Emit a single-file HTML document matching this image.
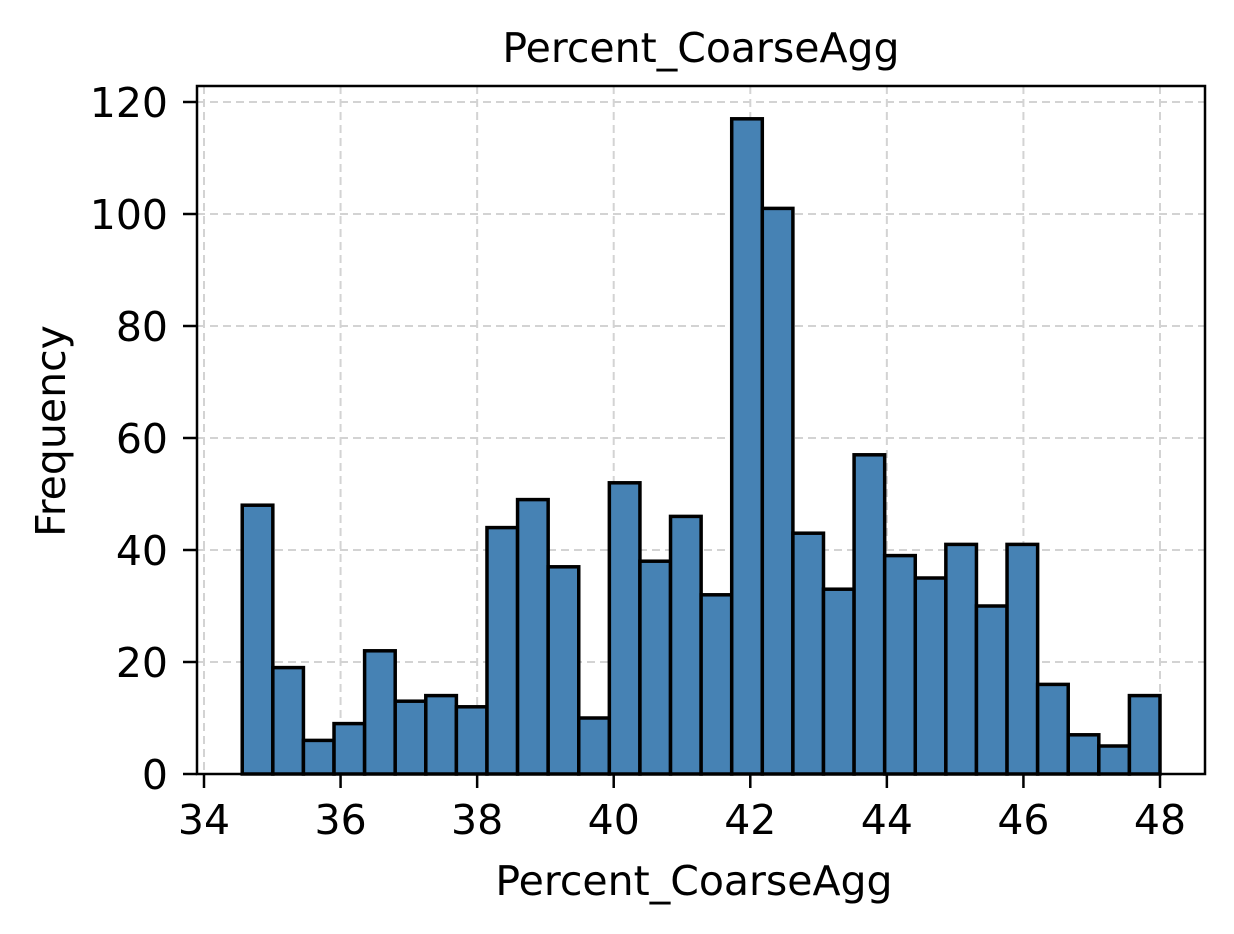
<!DOCTYPE html>
<html><head><meta charset="utf-8"><style>
html,body{margin:0;padding:0;background:#fff;}
svg{display:block;font-family:"DejaVu Sans","Liberation Sans",sans-serif;}
</style></head><body>
<svg id="chart" width="1234" height="934" viewBox="0 0 1234 934">
<rect width="1234" height="934" fill="#fff"/>
<g id="grid"></g>
<g id="bars"></g>
<rect x="197" y="86" width="1008" height="688" fill="none" stroke="#000" stroke-width="2.5"/>
<g id="ticks"></g>
<text x="701" y="62" font-size="41" text-anchor="middle">Percent_CoarseAgg</text>
<text x="694" y="895" font-size="41" text-anchor="middle">Percent_CoarseAgg</text>
<text transform="translate(65,431) rotate(-90)" font-size="41" text-anchor="middle">Frequency</text>
</svg>
<script>
const counts=[48,19,6,9,22,13,14,12,44,49,37,10,52,38,46,32,117,101,43,33,57,39,35,41,30,41,16,7,5,14];
const binStart=34.56, binEnd=48.0;
const xTicks=[34,36,38,40,42,44,46,48];
const yTicks=[0,20,40,60,80,100,120];
const NS="http://www.w3.org/2000/svg";
function xs(v){return 204+(v-34)*(1160-204)/14;}
function ys(v){return 774-v*(774-102)/120;}
function mk(t,a,p){const e=document.createElementNS(NS,t);for(const k in a)e.setAttribute(k,a[k]);p.appendChild(e);return e;}
const grid=document.getElementById('grid'),bars=document.getElementById('bars'),ticks=document.getElementById('ticks');
xTicks.forEach(v=>{
 const l=mk('line',{x1:xs(v),x2:xs(v),y1:86,y2:774,stroke:'#d3d3d3','stroke-width':2,'stroke-dasharray':'8,5'},grid);
 
 
 const t=mk('line',{x1:xs(v),x2:xs(v),y1:774,y2:788,stroke:'#000','stroke-width':2.5},ticks);
 
 
 const tx=mk('text',{x:xs(v),y:834,'font-size':41,'text-anchor':'middle'},ticks);tx.textContent=v;
 
 
});
yTicks.forEach(v=>{
 const l=mk('line',{x1:197,x2:1205,y1:ys(v),y2:ys(v),stroke:'#d3d3d3','stroke-width':2,'stroke-dasharray':'8,5'},grid);
 
 
 const t=mk('line',{x1:183,x2:197,y1:ys(v),y2:ys(v),stroke:'#000','stroke-width':2.5},ticks);
 
 
 const tx=mk('text',{x:168,y:ys(v)+15,'font-size':41,'text-anchor':'end'},ticks);tx.textContent=v;
 
 
});
const w=(binEnd-binStart)/counts.length;
counts.forEach((c,i)=>{
 const x0=xs(binStart+i*w),x1=xs(binStart+(i+1)*w);
 const r=mk('rect',{x:x0,y:ys(c),width:x1-x0,height:ys(0)-ys(c),fill:'#4682b4',stroke:'#000','stroke-width':3.5},bars);
 
 
});
</script>
</body></html>
